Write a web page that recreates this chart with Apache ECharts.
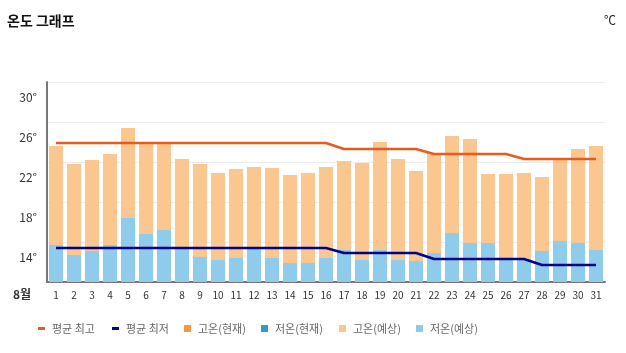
<!DOCTYPE html>
<html><head><meta charset="utf-8">
<script src="https://cdn.jsdelivr.net/npm/echarts@6/dist/echarts.min.js"></script>
<style>html,body{margin:0;padding:0;background:#fff}#c{width:626px;height:353px}</style>
</head><body><div id="c"></div>
<script>
const days = ['1','2','3','4','5','6','7','8','9','10','11','12','13','14','15','16','17','18','19','20','21','22','23','24','25','26','27','28','29','30','31'];
const avgHigh = [25.9,25.9,25.9,25.9,25.9,25.9,25.9,25.9,25.9,25.9,25.9,25.9,25.9,25.9,25.9,25.9,25.3,25.3,25.3,25.3,25.3,24.8,24.8,24.8,24.8,24.8,24.3,24.3,24.3,24.3,24.3];
const avgLow = [15.4,15.4,15.4,15.4,15.4,15.4,15.4,15.4,15.4,15.4,15.4,15.4,15.4,15.4,15.4,15.4,14.9,14.9,14.9,14.9,14.9,14.3,14.3,14.3,14.3,14.3,14.3,13.7,13.7,13.7,13.7];
const highNow = [];
const lowNow = [];
const highFcst = [25.6,23.8,24.2,24.8,27.4,25.8,25.8,24.3,23.8,22.9,23.3,23.5,23.4,22.7,22.9,23.5,24.1,23.9,26.0,24.3,23.1,24.9,26.6,26.3,22.8,22.8,22.9,22.5,24.3,25.3,25.6];
const lowFcst = [15.7,14.7,15.1,15.7,18.4,16.8,17.2,15.5,14.5,14.2,14.4,15.5,14.4,13.9,13.9,14.4,15.2,14.2,15.2,14.2,14.1,14.9,16.9,15.9,15.9,14.3,14.3,15.1,16.1,15.9,15.2];
const yLabelValues = [14,18,22,26,30];

const FONT = '"Noto Sans CJK KR", "Noto Sans", sans-serif';
const legendItems = [
  {name:'평균 최고', left:33, h:3},
  {name:'평균 최저', left:107, h:3},
  {name:'고온(현재)', left:179, h:7},
  {name:'저온(현재)', left:256, h:7},
  {name:'고온(예상)', left:334, h:7},
  {name:'저온(예상)', left:411, h:7}
];
const chart = echarts.init(document.getElementById('c'), null, {renderer:'canvas'});
chart.setOption({
  animation:false,
  textStyle:{fontFamily:FONT},
  graphic:[
    {type:'text', left:7, top:14, style:{text:'온도 그래프', font:'bold 14px '+FONT, fill:'#111'}},
    {type:'text', left:604, top:14, style:{text:'℃', font:'12px '+FONT, fill:'#222'}},
    {type:'text', left:13, top:288, style:{text:'8월', font:'bold 12px '+FONT, fill:'#333'}}
  ],
  grid:{left:47, right:21, top:82, bottom:71},
  legend: legendItems.map(function(it){
    return {left:it.left, top:318, itemWidth:7, itemHeight:it.h, itemGap:0, icon:'rect',
      textStyle:{color:'#666', fontSize:11, fontFamily:FONT, padding:[0,0,0,2]},
      data:[it.name]};
  }),
  xAxis:{type:'category', data:days, boundaryGap:true,
    axisLine:{show:true, lineStyle:{color:'#777', width:2}},
    axisTick:{show:false},
    axisLabel:{color:'#333', fontSize:10, margin:8, interval:0}},
  yAxis:[
    {type:'value', min:12, max:32, interval:4,
     axisLine:{show:true, lineStyle:{color:'#777', width:2}},
     axisTick:{show:false}, axisLabel:{show:false},
     splitLine:{show:true, lineStyle:{color:'#ebebeb', width:1}}},
    {type:'value', min:12, max:32, interval:2, position:'left',
     axisLine:{show:false}, axisTick:{show:false}, splitLine:{show:false},
     axisLabel:{color:'#333', fontSize:12, margin:10, verticalAlign:'bottom', lineHeight:10,
       formatter:function(v){return yLabelValues.indexOf(v)>=0 ? v+'°' : '';}}}
  ],
  series:[
    {name:'고온(현재)', type:'bar', data:highNow, barWidth:14, barGap:'-100%', itemStyle:{color:'#F7963C'}},
    {name:'저온(현재)', type:'bar', data:lowNow, barWidth:14, barGap:'-100%', itemStyle:{color:'#2F9AD6'}},
    {name:'고온(예상)', type:'bar', data:highFcst, barWidth:14, barGap:'-100%', itemStyle:{color:'#F9C78F'}},
    {name:'저온(예상)', type:'bar', data:lowFcst, barWidth:14, barGap:'-100%', itemStyle:{color:'#8FCBEB'}},
    {name:'평균 최고', type:'line', data:avgHigh, symbol:'none', z:5, lineStyle:{color:'#E85A1E', width:2.5}, itemStyle:{color:'#E85A1E'}},
    {name:'평균 최저', type:'line', data:avgLow, symbol:'none', z:5, lineStyle:{color:'#00008B', width:2.5}, itemStyle:{color:'#00008B'}}
  ]
});
</script></body></html>
